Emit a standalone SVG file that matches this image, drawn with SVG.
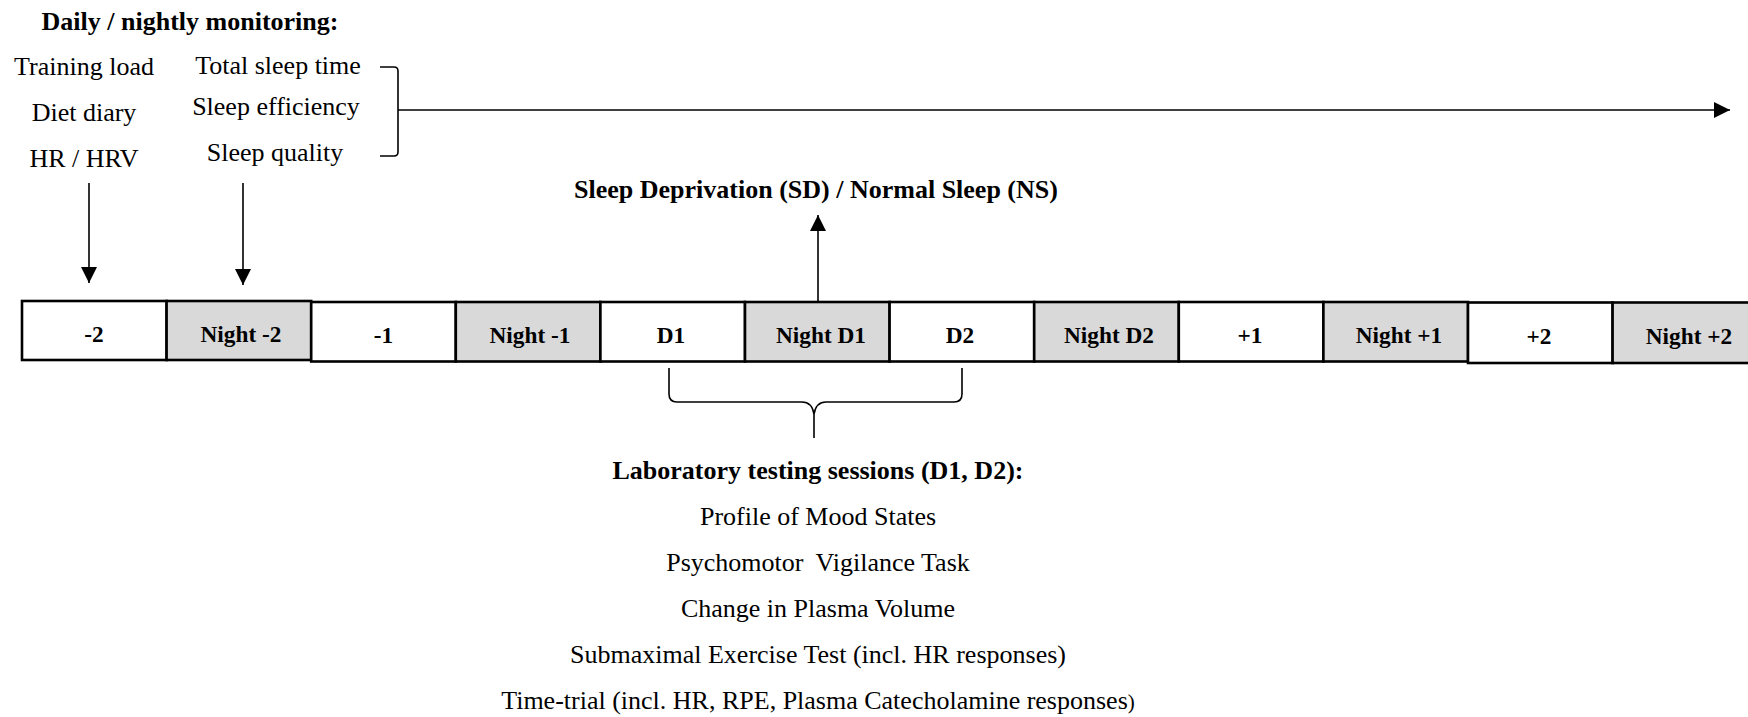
<svg xmlns="http://www.w3.org/2000/svg" width="1748" height="717" viewBox="0 0 1748 717">
<style>
text{font-family:"Liberation Serif","Times New Roman",serif;fill:#000}
.b{font-weight:bold;font-size:26px}
.r{font-size:26px}
.c{font-weight:bold;font-size:23.3px}
.day{fill:#fff;stroke:#000;stroke-width:2.6}
.night{fill:#d9d9d9;stroke:#000;stroke-width:2.6}
.ln{fill:none;stroke:#000;stroke-width:1.6}
</style>
<defs>
<marker id="ah" viewBox="0 0 16 16" refX="16" refY="8" markerWidth="16" markerHeight="16" markerUnits="userSpaceOnUse" orient="auto">
<path d="M0,0 L16,8 L0,16 z" fill="#000"/>
</marker>
</defs>
<rect width="1748" height="717" fill="#fff"/>

<g id="monitoring">
<text class="b" x="190" y="30" text-anchor="middle">Daily / nightly monitoring:</text>
<text class="r" x="84" y="75" text-anchor="middle">Training load</text>
<text class="r" x="84" y="121" text-anchor="middle">Diet diary</text>
<text class="r" x="84" y="167" text-anchor="middle">HR / HRV</text>
<text class="r" x="278" y="74" text-anchor="middle">Total sleep time</text>
<text class="r" x="276" y="115" text-anchor="middle">Sleep efficiency</text>
<text class="r" x="275" y="161" text-anchor="middle">Sleep quality</text>
</g>

<g id="sd-label">
<text class="b" x="816" y="198" text-anchor="middle">Sleep Deprivation (SD) / Normal Sleep (NS)</text>
</g>

<g id="timeline">
<g id="cell-m2"><rect class="day" x="22" y="301" width="144.6" height="59"/><text class="c" x="94" y="342" text-anchor="middle">-2</text></g>
<g id="cell-nm2"><rect class="night" x="166.6" y="301" width="144.6" height="59"/><text class="c" x="241" y="342" text-anchor="middle">Night -2</text></g>
<g id="cell-m1"><rect class="day" x="311.2" y="302" width="144.6" height="59.5"/><text class="c" x="383.5" y="343" text-anchor="middle">-1</text></g>
<g id="cell-nm1"><rect class="night" x="455.8" y="302" width="144.6" height="59.5"/><text class="c" x="530" y="343" text-anchor="middle">Night -1</text></g>
<g id="cell-d1"><rect class="day" x="600.4" y="302" width="144.6" height="59.5"/><text class="c" x="671" y="343" text-anchor="middle">D1</text></g>
<g id="cell-nd1"><rect class="night" x="745" y="302" width="144.6" height="59.5"/><text class="c" x="821" y="343" text-anchor="middle">Night D1</text></g>
<g id="cell-d2"><rect class="day" x="889.6" y="302" width="144.6" height="59.5"/><text class="c" x="960" y="343" text-anchor="middle">D2</text></g>
<g id="cell-nd2"><rect class="night" x="1034.2" y="302" width="144.6" height="59.5"/><text class="c" x="1109" y="343" text-anchor="middle">Night D2</text></g>
<g id="cell-p1"><rect class="day" x="1178.8" y="302" width="144.6" height="59.5"/><text class="c" x="1250" y="343" text-anchor="middle">+1</text></g>
<g id="cell-np1"><rect class="night" x="1323.4" y="302" width="144.6" height="59.5"/><text class="c" x="1399" y="343" text-anchor="middle">Night +1</text></g>
<g id="cell-p2"><rect class="day" x="1468" y="302.5" width="144.6" height="60.5"/><text class="c" x="1539" y="344" text-anchor="middle">+2</text></g>
<g id="cell-np2"><rect class="night" x="1612.6" y="302.5" width="144.6" height="60.5"/><text class="c" x="1689" y="344" text-anchor="middle">Night +2</text></g>
</g>

<g id="lab-sessions">
<text class="b" x="818" y="479" text-anchor="middle">Laboratory testing sessions (D1, D2):</text>
<text class="r" x="818" y="525" text-anchor="middle">Profile of Mood States</text>
<text class="r" x="818" y="571" text-anchor="middle">Psychomotor <tspan dx="6">Vigilance Task</tspan></text>
<text class="r" x="818" y="617" text-anchor="middle">Change in Plasma Volume</text>
<text class="r" x="818" y="663" text-anchor="middle">Submaximal Exercise Test (incl. HR responses)</text>
<text class="r" x="818" y="709" text-anchor="middle">Time-trial (incl. HR, RPE, Plasma Catecholamine responses<tspan font-size="21">)</tspan></text>
</g>

<g id="connectors">
<path class="ln" d="M380,67 L394,67 Q398,67 398,71 L398,152 Q398,156 394,156 L380,156"/>
<line class="ln" x1="398" y1="110" x2="1730" y2="110" marker-end="url(#ah)"/>
<line class="ln" x1="89" y1="183" x2="89" y2="283" marker-end="url(#ah)"/>
<line class="ln" x1="243" y1="183" x2="243" y2="285" marker-end="url(#ah)"/>
<line class="ln" x1="818" y1="301" x2="818" y2="215" marker-end="url(#ah)"/>
<path class="ln" d="M669,368 L669,394 Q669,402 677,402 L802,402 Q812,402 814,414 L814,438 M814,414 Q816,402 826,402 L954,402 Q962,402 962,394 L962,368"/>
</g>
</svg>
